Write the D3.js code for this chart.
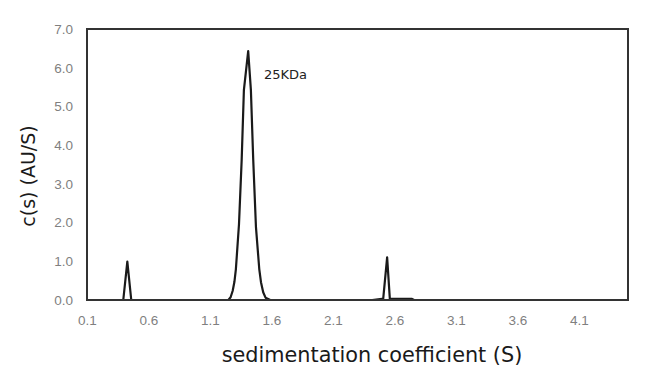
<!DOCTYPE html>
<html>
<head>
<meta charset="utf-8">
<script src="https://cdn.jsdelivr.net/npm/d3@7"></script>
<style>
  body { margin: 0; background: #fff; }
  svg { font-family: "DejaVu Sans", sans-serif; }
</style>
</head>
<body>
<svg id="chart" width="650" height="374"></svg>
<script>
// sedimentation coefficient (S) and c(s) values
var sValues = [0.1, 0.395, 0.428, 0.46, 1.25, 1.268, 1.285, 1.299, 1.311, 1.336, 1.358, 1.376, 1.411,
               1.433, 1.452, 1.474, 1.501, 1.515, 1.533, 1.552, 1.59, 2.42, 2.5, 2.509, 2.541, 2.563,
               2.6, 2.74, 2.76, 4.5];
var cValues = [0, 0, 0.99, 0, 0, 0.07, 0.24, 0.47, 0.8, 1.95, 3.62, 5.42, 6.43,
               5.42, 3.62, 1.89, 0.8, 0.46, 0.2, 0.06, 0, 0, 0.03, 0.03, 1.10, 0.03,
               0.03, 0.03, 0, 0];

var xTicks = [0.1, 0.6, 1.1, 1.6, 2.1, 2.6, 3.1, 3.6, 4.1];
var yTicks = [0, 1, 2, 3, 4, 5, 6, 7];

var peakLabel = "25KDa";

var svg = d3.select("#chart");
var margin = {left: 87, right: 22, top: 29, bottom: 74};
var width = 650 - margin.left - margin.right;
var height = 374 - margin.top - margin.bottom;

var x = d3.scaleLinear().domain([0.1, 4.5]).range([0, width]);
var y = d3.scaleLinear().domain([0, 7]).range([height, 0]);

var g = svg.append("g").attr("transform", "translate(" + margin.left + "," + margin.top + ")");

// y axis labels
var yAxis = g.append("g").call(d3.axisLeft(y).tickValues(yTicks).tickFormat(d3.format(".1f")).tickSize(0).tickPadding(14));
yAxis.select(".domain").remove();
yAxis.selectAll("text").style("fill", "#7f7f7f").style("font-size", "13.5px");

// x axis labels
var xAxis = g.append("g").attr("transform", "translate(0," + height + ")")
    .call(d3.axisBottom(x).tickValues(xTicks).tickFormat(d3.format(".1f")).tickSize(0).tickPadding(15));
xAxis.select(".domain").remove();
xAxis.selectAll("text").style("fill", "#7f7f7f").style("font-size", "13.5px");

// light axis line under the data
g.append("line")
    .attr("x1", 0).attr("x2", width)
    .attr("y1", y(0)).attr("y2", y(0))
    .style("stroke", "#d9d9d9").style("stroke-width", 1);

var data = sValues.map(function (s, i) { return {s: s, c: cValues[i]}; });

var line = d3.line()
    .x(function (d) { return x(d.s); })
    .y(function (d) { return y(d.c); });

g.append("path")
    .datum(data)
    .attr("d", line)
    .style("fill", "none")
    .style("stroke", "#1a1a1a")
    .style("stroke-width", 2.2)
    .style("stroke-linejoin", "round");

// frame
g.append("rect")
    .attr("x", 0).attr("y", 0)
    .attr("width", width).attr("height", height)
    .style("fill", "none")
    .style("stroke", "#333")
    .style("stroke-width", 2);

// peak annotation
g.append("text")
    .attr("x", x(1.54))
    .attr("y", y(5.72))
    .text(peakLabel)
    .style("font-size", "13px")
    .style("fill", "#222");

// axis titles
svg.append("text")
    .attr("x", 372)
    .attr("y", 362)
    .attr("text-anchor", "middle")
    .text("sedimentation coefficient (S)")
    .style("font-size", "20.8px")
    .style("fill", "#1a1a1a");

svg.append("text")
    .attr("transform", "translate(35,176) rotate(-90)")
    .attr("text-anchor", "middle")
    .text("c(s) (AU/S)")
    .style("font-size", "19px")
    .style("fill", "#1a1a1a");
</script>
</body>
</html>
